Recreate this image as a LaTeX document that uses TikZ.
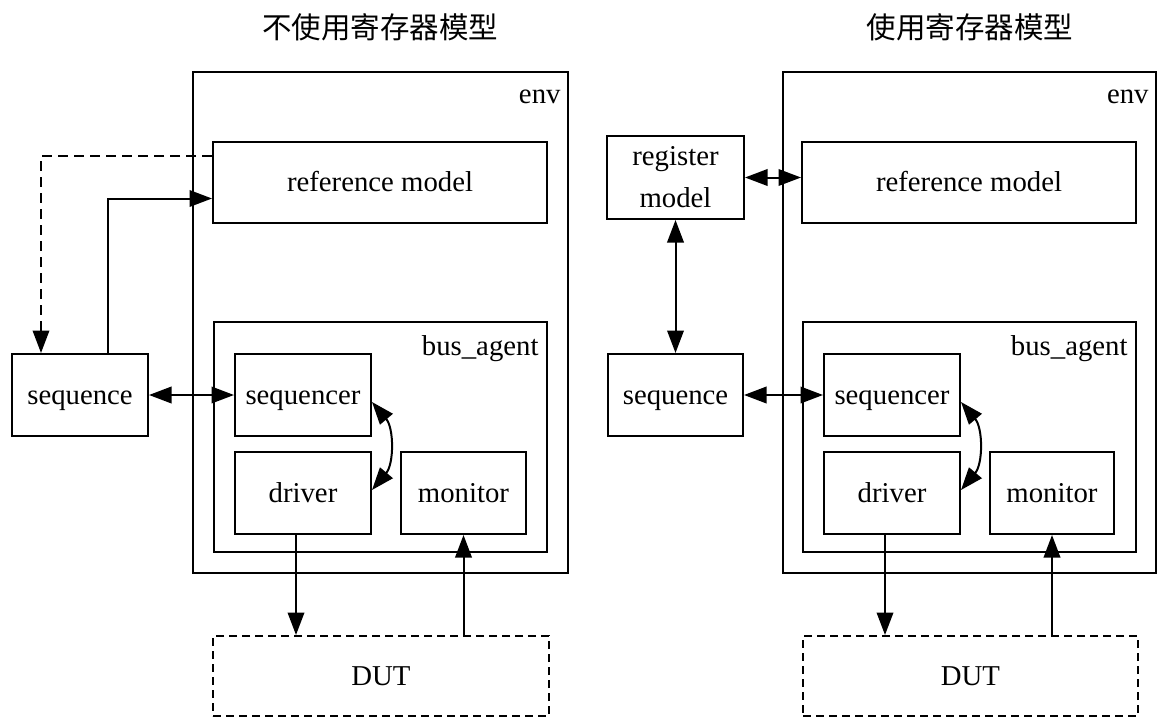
\documentclass[tikz,border=0pt]{standalone}
\usepackage{fontspec}
\setmainfont{Liberation Serif}
\newfontfamily\cjk{Noto Sans CJK SC}
\usepackage{tikz}
\usetikzlibrary{arrows.meta}

\begin{document}
\begin{tikzpicture}[x=0.4pt,y=-0.4pt,
	blk/.style={draw, line width=0.8pt, inner sep=0pt, align=center, font=\fontsize{11.5}{16.8}\selectfont},
	one/.style={blk, text height=1.9ex, text depth=0.25ex},
	lbl/.style={inner sep=0pt, font=\fontsize{11.5}{14}\selectfont},
	ttl/.style={inner sep=0pt, font=\cjk\fontsize{11.8}{14}\selectfont},
	dut/.style={one, dash pattern=on 3.2pt off 2pt},
	con/.style={line width=0.8pt, -{Triangle[length=9pt,width=6.6pt]}},
	dcon/.style={line width=0.8pt, {Triangle[length=9pt,width=6.6pt]}-{Triangle[length=9pt,width=6.6pt]}}]

\useasboundingbox (0,0) rectangle (1171,726);

% left: without register model
\node[ttl] (title1) at (380,27) {不使用寄存器模型};
\node[blk, minimum width=150pt, minimum height=200.4pt] (env1) at (380.5,322.5) {};
\node[lbl, anchor=base east] (envlbl1) at (561,104) {env};
\node[one, minimum width=133.6pt, minimum height=32.4pt] (ref1) at (380,182.5) {reference model};
\node[blk, minimum width=133.2pt, minimum height=92pt] (bus1) at (380.5,437) {};
\node[lbl, anchor=base east] (buslbl1) at (539,355) {bus\_agent};
\node[one, minimum width=54.4pt, minimum height=32.8pt] (sqr1) at (303,395) {sequencer};
\node[one, minimum width=54.4pt, minimum height=32.8pt] (drv1) at (303,493) {driver};
\node[one, minimum width=50pt, minimum height=32.8pt] (mon1) at (463.5,493) {monitor};
\node[one, minimum width=54.4pt, minimum height=32.8pt] (seq1) at (80,395) {sequence};
\node[dut, minimum width=134.4pt, minimum height=32pt] (dut1) at (381,676) {DUT};

\draw[con, dash pattern=on 4pt off 2.4pt] ([yshift=10.6pt]ref1.west) -| ([xshift=12pt]seq1.north west);
\draw[con] ([xshift=11.2pt]seq1.north) |- ([yshift=-6.4pt]ref1.west);
\draw[dcon] (seq1.east) -- (sqr1.west);
\draw[dcon] ([yshift=-2.8pt]sqr1.east) to[bend left=40] ([yshift=1.2pt]drv1.east);
\draw[con] ([xshift=-2.8pt]drv1.south) -- ([xshift=-2.8pt]drv1.south |- dut1.north);
\draw[con] (mon1.south |- dut1.north) -- (mon1.south);

% right: with register model
\node[ttl] (title2) at (970,27) {使用寄存器模型};
\node[blk, minimum width=149.2pt, minimum height=200.4pt] (env2) at (969.5,322.5) {};
\node[lbl, anchor=base east] (envlbl2) at (1149,104) {env};
\node[one, minimum width=133.6pt, minimum height=32.4pt] (ref2) at (969,182.5) {reference model};
\node[blk, minimum width=133.2pt, minimum height=92pt] (bus2) at (969.5,437) {};
\node[lbl, anchor=base east] (buslbl2) at (1128,355) {bus\_agent};
\node[one, minimum width=54.4pt, minimum height=32.8pt] (sqr2) at (892,395) {sequencer};
\node[one, minimum width=54.4pt, minimum height=32.8pt] (drv2) at (892,493) {driver};
\node[one, minimum width=49.6pt, minimum height=32.8pt] (mon2) at (1052,493) {monitor};
\node[one, minimum width=54pt, minimum height=32.8pt] (seq2) at (675.5,395) {sequence};
\node[blk, minimum width=54.8pt, minimum height=33.2pt] (reg2) at (675.5,177.5) {\raisebox{-1.5pt}{register}\\\raisebox{-1.5pt}{model}};
\node[dut, minimum width=134pt, minimum height=32pt] (dut2) at (970.5,676) {DUT};

\draw[dcon] (reg2.east) -- (reg2.east -| ref2.west);
\draw[dcon] (reg2.south) -- (seq2.north);
\draw[dcon] (seq2.east) -- (sqr2.west);
\draw[dcon] ([yshift=-2.8pt]sqr2.east) to[bend left=40] ([yshift=1.2pt]drv2.east);
\draw[con] ([xshift=-2.8pt]drv2.south) -- ([xshift=-2.8pt]drv2.south |- dut2.north);
\draw[con] (mon2.south |- dut2.north) -- (mon2.south);

\end{tikzpicture}
\end{document}
